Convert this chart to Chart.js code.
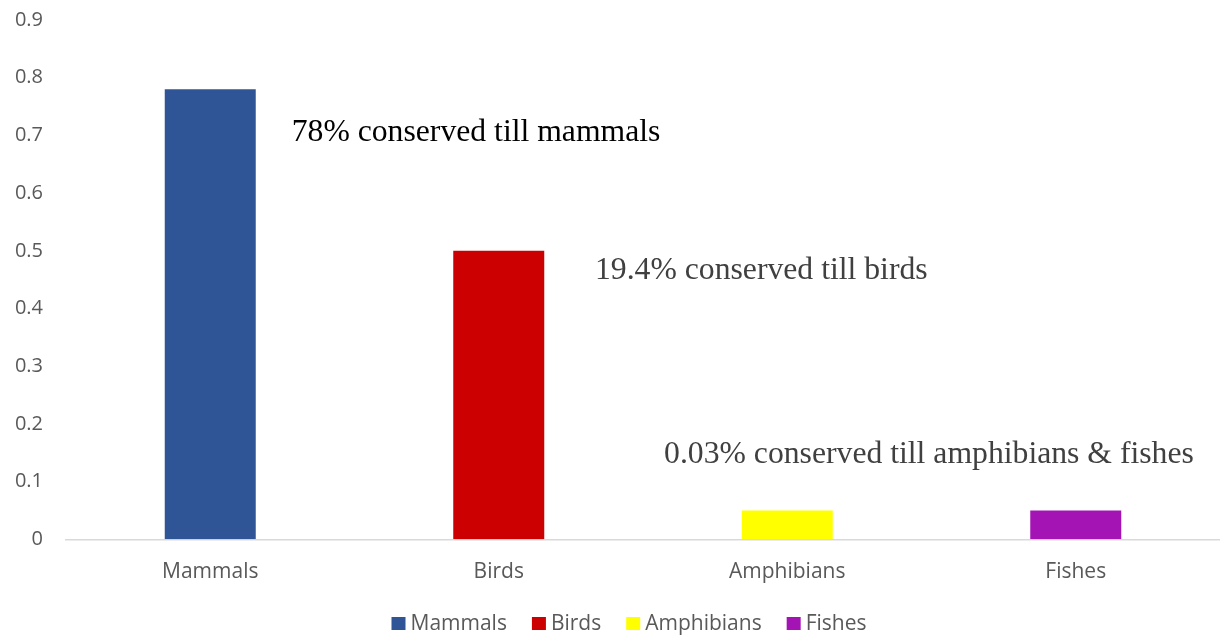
<!DOCTYPE html>
<html>
<head>
<meta charset="utf-8">
<script src="https://cdn.jsdelivr.net/npm/chart.js@4/dist/chart.umd.min.js"></script>
<style>
  html, body { margin: 0; padding: 0; background: #ffffff; }
  #wrap { position: relative; width: 1220px; height: 636px; }
</style>
</head>
<body>
<div id="wrap"><canvas id="chart"></canvas></div>
<script>
// Groups and their conserved fraction
const categories = ['Mammals', 'Birds', 'Amphibians', 'Fishes'];
const values = [0.78, 0.5, 0.05, 0.05];
const yTicks = [0, 0.1, 0.2, 0.3, 0.4, 0.5, 0.6, 0.7, 0.8, 0.9];
const notes = [
  '78% conserved till mammals',
  '19.4% conserved till birds',
  '0.03% conserved till amphibians & fishes'
];

// Styling
const barColors = ['#2f5597', '#cc0000', '#ffff00', '#a414b4'];
const noteColors = ['#000000', '#404040', '#404040'];
// note anchors: category index, offset in category widths, baseline in axis units
const noteAnchors = [
  { index: 0, offset: 0.2823, y: 0.691 },
  { index: 1, offset: 0.3336, y: 0.4517 },
  { index: 2, offset: -0.427, y: 0.1327 }
];
const sansFont = '"Open Sans", "Liberation Sans", sans-serif';
const serifFont = '"Liberation Serif", "Times New Roman", serif';

// Free-floating notes, placed through the chart's scales
const notesPlugin = {
  id: 'notes',
  afterDatasetsDraw(chart) {
    const { ctx, scales: { x, y } } = chart;
    const catW = x.width / categories.length;
    ctx.save();
    ctx.font = '31.7px ' + serifFont;
    ctx.textAlign = 'left';
    ctx.textBaseline = 'alphabetic';
    notes.forEach((t, i) => {
      const a = noteAnchors[i];
      ctx.fillStyle = noteColors[i];
      ctx.fillText(t, x.getPixelForValue(a.index) + a.offset * catW, y.getPixelForValue(a.y));
    });
    ctx.restore();
  }
};

// Legend row under the axis, one entry per category
const legendPlugin = {
  id: 'catLegend',
  afterDraw(chart) {
    const { ctx } = chart;
    const boxW = 14, boxH = 13, gap = 5, itemGap = 25;
    const centerX = 629, baseY = 630;
    ctx.save();
    ctx.font = '21px ' + sansFont;
    const widths = categories.map(c => ctx.measureText(c).width);
    const total = widths.reduce((s, w) => s + boxW + gap + w, 0) + itemGap * (categories.length - 1);
    let cx = centerX - total / 2;
    ctx.textBaseline = 'alphabetic';
    ctx.textAlign = 'left';
    categories.forEach((c, i) => {
      ctx.fillStyle = barColors[i];
      ctx.fillRect(cx, baseY - 13, boxW, boxH);
      cx += boxW + gap;
      ctx.fillStyle = '#595959';
      ctx.fillText(c, cx, baseY);
      cx += widths[i] + itemGap;
    });
    ctx.restore();
  }
};

new Chart(document.getElementById('chart'), {
  type: 'bar',
  data: {
    labels: categories,
    datasets: [{
      label: 'Conserved',
      data: values,
      backgroundColor: barColors,
      borderWidth: 0,
      categoryPercentage: 0.3154,
      barPercentage: 1
    }]
  },
  options: {
    responsive: true,
    maintainAspectRatio: false,
    animation: false,
    layout: { padding: { top: 20, left: 15, right: 0, bottom: 31.5 } },
    plugins: {
      legend: { display: false },
      tooltip: { enabled: false }
    },
    scales: {
      x: {
        grid: { display: false, drawTicks: false },
        border: { display: true, color: '#d9d9d9', width: 1.5 },
        ticks: { color: '#595959', font: { family: sansFont, size: 21 }, padding: 20 }
      },
      y: {
        min: 0,
        max: 0.9,
        afterBuildTicks: axis => { axis.ticks = yTicks.map(v => ({ value: v })); },
        afterFit: axis => {
          axis.width = 51;
          axis.paddingTop = 0;
          axis.paddingBottom = 0;
        },
        grid: { display: false, drawTicks: false },
        border: { display: false },
        ticks: {
          color: '#595959',
          font: { family: sansFont, size: 20 },
          padding: 23,
          callback: v => String(+v.toFixed(1))
        }
      }
    }
  },
  plugins: [notesPlugin, legendPlugin]
});
</script>
</body>
</html>
